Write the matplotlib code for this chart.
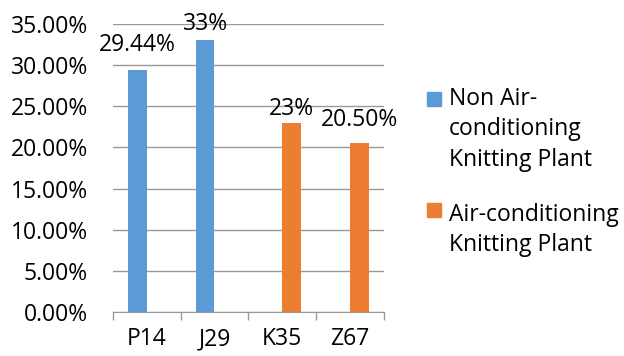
import matplotlib
matplotlib.use("Agg")
import matplotlib.pyplot as plt
from matplotlib.patches import Rectangle
from matplotlib.ticker import FuncFormatter
import numpy as np

plt.rcParams['font.family'] = ['Open Sans', 'DejaVu Sans']

# 데이터
categories = ["P14", "J29", "K35", "Z67"]
non_air = [29.44, 33.0, 0, 0]
air = [0, 0, 23.0, 20.50]
labels_non = ["29.44%", "33%", "", ""]
labels_air = ["", "", "23%", "20.50%"]
series_names = ["Non Air-\nconditioning\nKnitting Plant", "Air-conditioning\nKnitting Plant"]

blue = "#5B9BD5"
orange = "#ED7D31"
fs = 16.5

fig = plt.figure(figsize=(6.24, 3.56), dpi=100)
ax = fig.add_axes([0.181, 0.1236, 0.434, 0.809])

x = np.arange(len(categories))
w = 0.28
b1 = ax.bar(x - w / 2, non_air, w, color=blue)
b2 = ax.bar(x + w / 2, air, w, color=orange)

# 라벨 (위치 미세 조정)
pad_non = [9, 3, 0, 0]
pad_air = [0, 0, 1, 8]
for i, r in enumerate(b1):
    if labels_non[i]:
        ax.annotate(labels_non[i], (r.get_x() + r.get_width() / 2, r.get_height()),
                    xytext=(0, pad_non[i]), textcoords="offset points",
                    ha="center", va="bottom", fontsize=fs, annotation_clip=False)
for i, r in enumerate(b2):
    if labels_air[i]:
        ax.annotate(labels_air[i], (r.get_x() + r.get_width() / 2, r.get_height()),
                    xytext=(0, pad_air[i]), textcoords="offset points",
                    ha="center", va="bottom", fontsize=fs, annotation_clip=False)

ax.set_xlim(-0.5, len(categories) - 0.5)
ax.set_ylim(0, 35)
ax.set_yticks(np.arange(0, 36, 5))
ax.yaxis.set_major_formatter(FuncFormatter(lambda v, p: "%.2f%%" % v))
ax.set_xticks(x)
ax.set_xticklabels(categories)
ax.set_xticks(np.arange(-0.5, len(categories), 1), minor=True)
ax.tick_params(axis="x", which="major", length=0, pad=11, labelsize=fs)
ax.tick_params(axis="x", which="minor", length=6, color="#999999", width=1)
ax.tick_params(axis="y", length=0, pad=18, labelsize=fs)
ax.grid(axis="y", color="#999999", linewidth=1)
ax.set_axisbelow(True)
for s in ["left", "right", "top"]:
    ax.spines[s].set_visible(False)
ax.spines["bottom"].set_color("#999999")
ax.spines["bottom"].set_zorder(5)

# 범례 (픽셀 위치, 위에서부터)
colors = [blue, orange]
sq_top = [92, 203]
txt_top = [87, 203]
H = 356.0
for c, name, st, tt in zip(colors, series_names, sq_top, txt_top):
    fig.patches.append(Rectangle((427 / 624, 1 - (st + 14) / H), 14 / 624, 14 / H,
                                 transform=fig.transFigure, color=c))
    fig.text(449 / 624, 1 - tt / H, name, fontsize=fs, va="top", ha="left",
             linespacing=1.35)

fig.savefig("out.png", dpi=100)
